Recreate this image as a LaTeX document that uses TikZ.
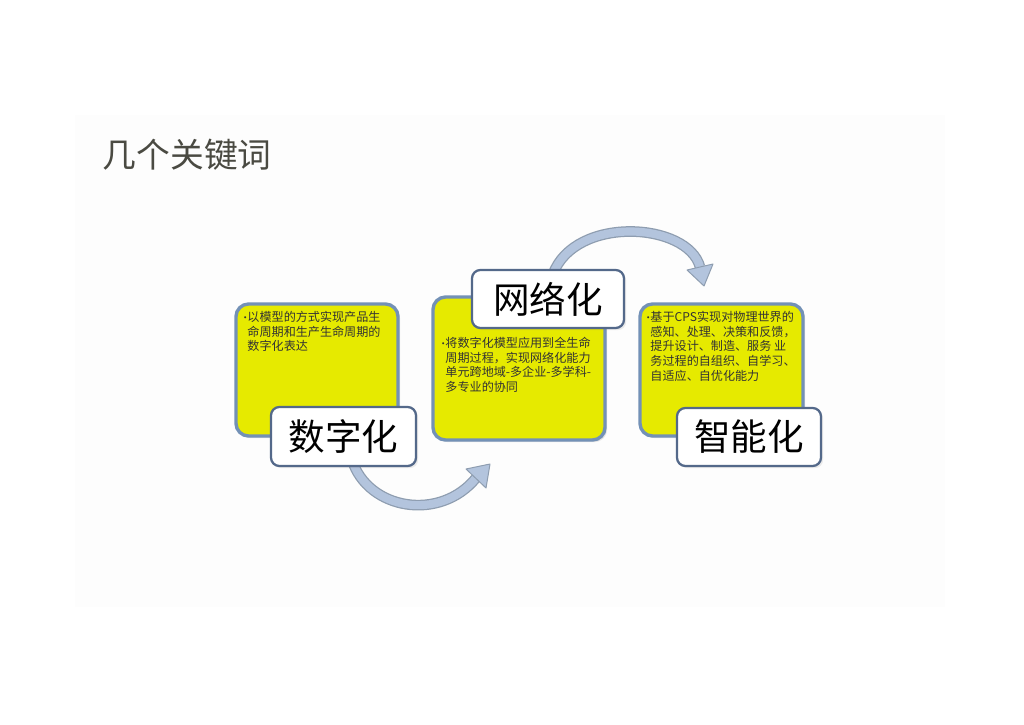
\documentclass[tikz,border=0pt]{standalone}
\usepackage{fontspec}
\usepackage{xcolor}
\usepackage{tikz}
\usetikzlibrary{arrows.meta,shadows}
\newfontfamily\cjk{Noto Sans CJK SC}
\definecolor{boxyellow}{HTML}{E6EA00}
\definecolor{boxedge}{HTML}{7391B6}
\definecolor{tagedge}{HTML}{54698A}
\definecolor{bandfill}{HTML}{B3C4DD}
\definecolor{bandedge}{HTML}{8E9DB0}
\definecolor{titlegray}{HTML}{4A4A42}
\newcommand{\itemdot}{\makebox[0.18cm][l]{\scriptsize\textbullet}}
\newcommand{\itemgap}{\hspace*{0.18cm}}

\begin{document}
\begin{tikzpicture}[x=0.025cm, y=-0.025cm,
        card/.style={draw=boxedge, line width=2.4pt, rounded corners=9pt, fill=boxyellow, drop shadow={opacity=0.2, shadow xshift=1.5pt, shadow yshift=-1.5pt}},
        tag/.style={draw=tagedge, line width=1.6pt, rounded corners=6pt, fill=white, font=\cjk\fontsize{26}{26}\selectfont, drop shadow={opacity=0.15, shadow xshift=1.5pt, shadow yshift=-1.5pt}},
        blurb/.style={anchor=north west, align=left, inner sep=0pt, text=black!80, font=\cjk\fontsize{8.6}{10.4}\selectfont},
        band/.style={draw=bandedge, line width=7.6pt, line cap=butt, postaction={draw=bandfill, line width=5.8pt}},
        bandtip/.style={fill=bandfill, draw=bandedge, line width=0.7pt, line join=round}
    ]
        \useasboundingbox (0,0) rectangle (1024,724);
        \fill[black!0.8] (75,115) rectangle (945,607);

        \node[font=\cjk\fontsize{24}{24}\selectfont, text=titlegray, anchor=west] (title) at (98,155) {几个关键词};

        % yellow cards
        \node[card, minimum width=4.05cm, minimum height=3.3cm] (digital) at (317,370) {};
        \node[card, minimum width=4.3cm, minimum height=3.575cm] (network) at (519,368.5) {};
        \node[card, minimum width=4.075cm, minimum height=3.3cm] (smart) at (721.5,370) {};

        \node[blurb] (digitaltext) at (240,311) {\itemdot 以模型的方式实现产品生\\\itemgap 命周期和生产生命周期的\\\itemgap 数字化表达};
        \node[blurb] (networktext) at (438,337) {\itemdot 将数字化模型应用到全生命\\\itemgap 周期过程，实现网络化能力\\\itemgap 单元跨地域-多企业-多学科-\\\itemgap 多专业的协同};
        \node[blurb] (smarttext) at (643,311) {\itemdot 基于CPS实现对物理世界的\\\itemgap 感知、处理、决策和反馈，\\\itemgap 提升设计、制造、服务 业\\\itemgap 务过程的自组织、自学习、\\\itemgap 自适应、自优化能力};

        % curved arrows
        \coordinate (lowstart) at (352,460);
        \coordinate (lowend) at (476,478);
        \coordinate (lowtip) at (490,464);
        \coordinate (upstart) at (553,274);
        \coordinate (upend) at (700,267);
        \coordinate (uptip) at (704,286);
        \draw[band] (lowstart) .. controls (368,510) and (440,522) .. (lowend);
        \draw[bandtip] (466,469) -- (lowtip) -- (486,488) -- cycle;
        \draw[band] (upstart) .. controls (575,215) and (688,222) .. (upend);
        \draw[bandtip] (687,270) -- (uptip) -- (713,264) -- cycle;

        % keyword tags
        \node[tag, minimum width=3.625cm, minimum height=1.475cm] (digitaltag) at (343.5,436.5) {数字化};
        \node[tag, minimum width=3.8cm, minimum height=1.45cm] (networktag) at (548,299) {网络化};
        \node[tag, minimum width=3.6cm, minimum height=1.45cm] (smarttag) at (749,437) {智能化};
    \end{tikzpicture}
\end{document}
